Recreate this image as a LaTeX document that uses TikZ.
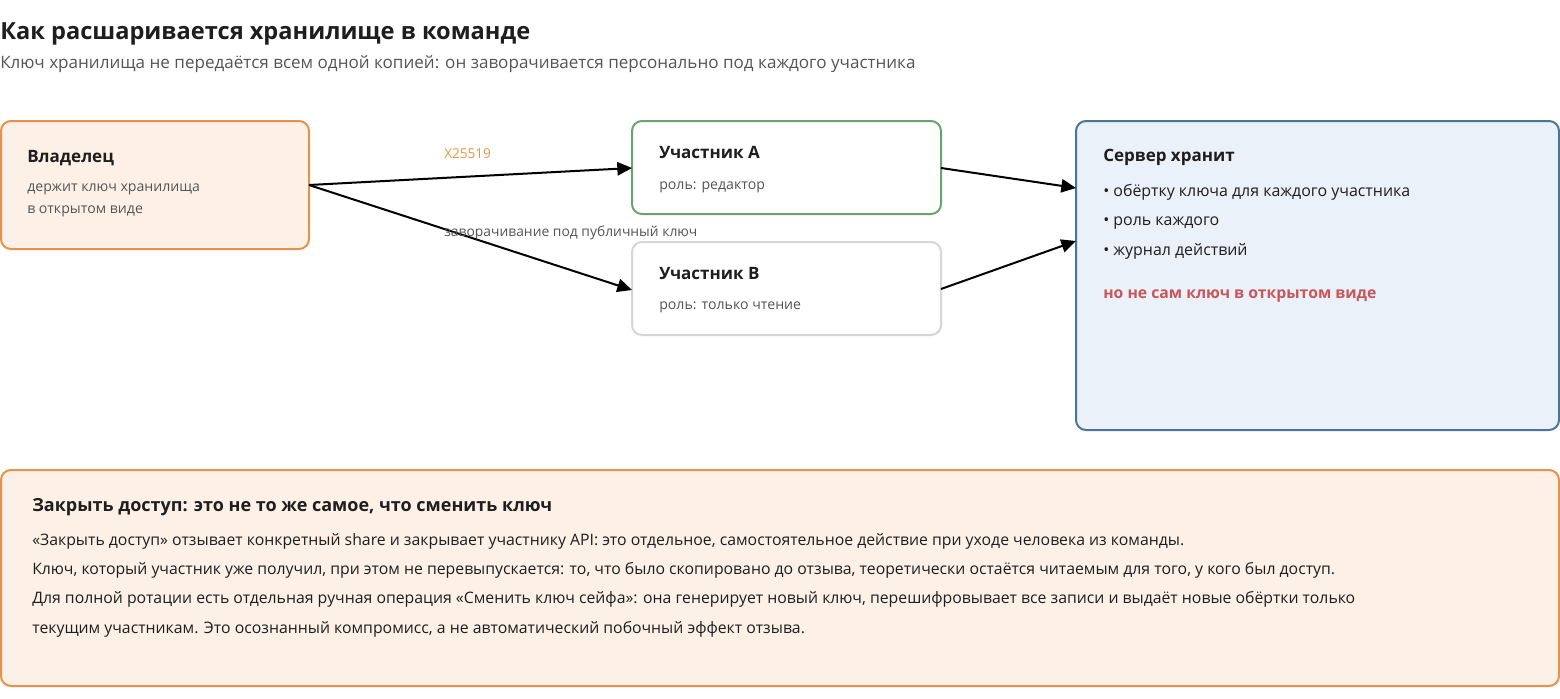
\documentclass[tikz,border=0pt]{standalone}
\usepackage{fontspec}
\setmainfont{Open Sans}
\usetikzlibrary{arrows.meta}
\definecolor{orstroke}{HTML}{E8914A}
\definecolor{orfill}{HTML}{FDF1E7}
\definecolor{grstroke}{HTML}{6BA36F}
\definecolor{gystroke}{HTML}{D6D6D6}
\definecolor{blstroke}{HTML}{4A7594}
\definecolor{blfill}{HTML}{EAF1F8}
\definecolor{redtxt}{HTML}{C8565A}
\definecolor{graytxt}{HTML}{555555}
\definecolor{darktxt}{HTML}{1E1E1E}
\definecolor{lbltxt}{HTML}{E8964A}
\begin{document}
\begin{tikzpicture}[x=0.75pt,y=-0.75pt,
  box/.style={rounded corners=7.5pt,line width=1.5pt},
  ttl/.style={anchor=base west,inner sep=0pt,font=\fontsize{12.75pt}{15pt}\selectfont\bfseries,text=darktxt},
  sub/.style={anchor=base west,inner sep=0pt,font=\fontsize{10.6pt}{13pt}\selectfont,text=graytxt},
  bul/.style={anchor=base west,inner sep=0pt,font=\fontsize{11.95pt}{14pt}\selectfont,text=darktxt},
  body/.style={anchor=base west,inner sep=0pt,font=\fontsize{11.85pt}{14pt}\selectfont,text=darktxt},
  lbl/.style={anchor=base west,inner sep=0pt,font=\fontsize{10.2pt}{12pt}\selectfont},
  conn/.style={line width=1.5pt,-{Triangle[length=11pt,width=10pt]}}]
\useasboundingbox[fill=white] (0,0) rectangle (1560,699);
% title
\node[anchor=base west,inner sep=0pt,font=\fontsize{17.7pt}{22pt}\selectfont\bfseries,text=darktxt] (title) at (0,40) {Как расшаривается хранилище в команде};
\node[anchor=base west,inner sep=0pt,font=\fontsize{12.8pt}{15pt}\selectfont,text=graytxt] (subtitle) at (0,69) {Ключ хранилища не передаётся всем одной копией: он заворачивается персонально под каждого участника};
% boxes
\draw[box,draw=orstroke,fill=orfill] (1,121) rectangle (309,249);
\coordinate (ownerR) at (309,185);
\node[ttl] (ownerT) at (27,162) {Владелец};
\node[sub] (owner1) at (27,191) {держит ключ хранилища};
\node[sub] (owner2) at (27,213) {в открытом виде};

\draw[box,draw=grstroke,fill=white] (632,121) rectangle (941,214);
\coordinate (aL) at (632,168);
\coordinate (aR) at (941,168);
\node[ttl] (aT) at (659,158) {Участник A};
\node[sub] (a1) at (659,189) {роль: редактор};

\draw[box,draw=gystroke,fill=white] (632,242) rectangle (941,335);
\coordinate (bL) at (632,290);
\coordinate (bR) at (941,289);
\node[ttl] (bT) at (659,279) {Участник B};
\node[sub] (b1) at (659,309) {роль: только чтение};

\draw[box,draw=blstroke,fill=blfill] (1076,121) rectangle (1559,430);
\coordinate (sA) at (1076,188);
\coordinate (sB) at (1076,241);
\node[ttl] (sT) at (1103,161) {Сервер хранит};
\node[bul] (s1) at (1103,196) {• обёртку ключа для каждого участника};
\node[bul] (s2) at (1103,225) {• роль каждого};
\node[bul] (s3) at (1103,255) {• журнал действий};
\node[ttl,font=\fontsize{11.8pt}{14pt}\selectfont\bfseries,text=redtxt] (s4) at (1103,298) {но не сам ключ в открытом виде};

% connectors
\draw[conn] (ownerR) -- (aL);
\draw[conn] (ownerR) -- (bL);
\draw[conn] (aR) -- (sA);
\draw[conn] (bR) -- (sB);
\node[lbl,text=lbltxt] (l1) at (444,158) {X25519};
\node[lbl,text=graytxt,font=\fontsize{10.4pt}{12pt}\selectfont] (l2) at (444,236) {заворачивание под публичный ключ};

% bottom box
\draw[box,draw=orstroke,fill=orfill] (1,470) rectangle (1559,686);
\node[ttl,font=\fontsize{13.5pt}{16pt}\selectfont\bfseries] (nT) at (32,511) {Закрыть доступ: это не то же самое, что сменить ключ};
\node[body] (n1) at (32,545) {«Закрыть доступ» отзывает конкретный share и закрывает участнику API: это отдельное, самостоятельное действие при уходе человека из команды.};
\node[body] (n2) at (32,574) {Ключ, который участник уже получил, при этом не перевыпускается: то, что было скопировано до отзыва, теоретически остаётся читаемым для того, у кого был доступ.};
\node[body] (n3) at (32,603) {Для полной ротации есть отдельная ручная операция «Сменить ключ сейфа»: она генерирует новый ключ, перешифровывает все записи и выдаёт новые обёртки только};
\node[body] (n4) at (32,633) {текущим участникам. Это осознанный компромисс, а не автоматический побочный эффект отзыва.};
\end{tikzpicture}
\end{document}
